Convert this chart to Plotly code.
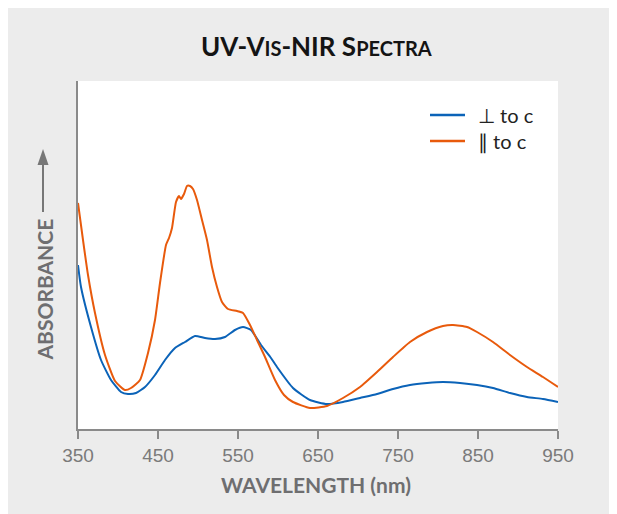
import plotly.graph_objects as go

# ---- data (arbitrary absorbance units) ----
perp_nm = [350, 353.75, 366.25, 378.75, 391.25, 403.75, 412.5, 422.5, 433.75, 446.25,
           458.75, 471.25, 483.75, 496.25, 508.75, 521.25, 533.75, 546.25, 556.25, 566.25,
           578.75, 591.25, 598.75, 618.75, 640, 661.25, 681.25, 702.5, 723.75, 743.75,
           765, 786.25, 806.25, 827.5, 848.75, 868.75, 890, 911.25, 931.25, 950]
perp_abs = [0.820, 0.710, 0.510, 0.345, 0.245, 0.185, 0.175, 0.180, 0.210, 0.270,
            0.345, 0.405, 0.435, 0.465, 0.455, 0.450, 0.460, 0.495, 0.510, 0.495,
            0.420, 0.355, 0.310, 0.205, 0.145, 0.125, 0.135, 0.155, 0.175, 0.200,
            0.220, 0.230, 0.235, 0.230, 0.220, 0.205, 0.180, 0.160, 0.150, 0.135]

para_nm = [350, 356.25, 362.5, 371.25, 383.75, 396.25, 408.75, 416.25, 427.5, 437.5,
           446.25, 452.5, 460, 463.75, 467.5, 472.5, 476.25, 478.75, 482.5, 486.25,
           490, 493.75, 498.75, 505, 511.25, 517.5, 523.75, 530, 537.5, 548.75,
           556.25, 565, 573.75, 583.75, 596.25, 607.5, 618.75, 640, 661.25, 681.25,
           702.5, 723.75, 743.75, 765, 786.25, 806.25, 818.75, 836.25, 848.75, 868.75,
           890, 911.25, 931.25, 950]
para_abs = [1.130, 0.945, 0.770, 0.580, 0.370, 0.240, 0.195, 0.205, 0.245, 0.380,
            0.545, 0.730, 0.920, 0.955, 1.005, 1.135, 1.165, 1.150, 1.175, 1.215,
            1.215, 1.200, 1.145, 1.045, 0.945, 0.810, 0.710, 0.635, 0.600, 0.590,
            0.580, 0.520, 0.445, 0.360, 0.245, 0.170, 0.135, 0.105, 0.115, 0.155,
            0.210, 0.285, 0.360, 0.435, 0.485, 0.515, 0.520, 0.510, 0.485, 0.435,
            0.370, 0.310, 0.260, 0.210]

x_ticks = [350, 450, 550, 650, 750, 850, 950]
series_names = ["⊥ to c", "∥ to c"]
series_colors = ["#0b63b8", "#e85a0c"]

W, H = 617, 514
OFF = 8                         # page body margin
L, R, T, B = 70, 550, 73, 421   # plot area in figure pixels


def px(sx):
    return (sx - OFF - L) / (R - L)


def py(sy):
    return (B - (sy - OFF)) / (B - T)


fig = go.Figure()
for nm, ab, name, col in [(perp_nm, perp_abs, series_names[0], series_colors[0]),
                          (para_nm, para_abs, series_names[1], series_colors[1])]:
    fig.add_trace(go.Scatter(x=nm, y=ab, mode="lines", name=name, showlegend=False,
                             line=dict(color=col, width=2, shape="spline", smoothing=0.5)))

axis_grey = "#8a8a8a"
text_grey = "#6e6e70"
title_font = "Lato, Open Sans, sans-serif"

shapes = [
    dict(type="rect", xref="paper", yref="paper", x0=0, x1=1, y0=0, y1=1,
         fillcolor="white", line=dict(width=0), layer="below"),
    # arrow next to the y-axis title
    dict(type="line", xref="paper", yref="paper", x0=px(43), x1=px(43), y0=py(212), y1=py(163),
         line=dict(color="#777777", width=2)),
    dict(type="path", xref="paper", yref="paper",
         path=f"M {px(37.5)},{py(165)} L {px(48.5)},{py(165)} L {px(43)},{py(149)} Z",
         fillcolor="#777777", line=dict(width=0)),
]
annotations = [
    dict(xref="paper", yref="paper", x=px(316), y=py(46), xanchor="center", yanchor="middle",
         showarrow=False,
         text="<b>UV-V<span style='font-size:20px'>IS</span>-NIR S<span style='font-size:20px'>PECTRA</span></b>",
         font=dict(family=title_font, size=26, color="#141414")),
    dict(xref="paper", yref="paper", x=px(316), y=py(484), xanchor="center", yanchor="middle",
         showarrow=False, text="<b>WAVELENGTH (nm)</b>",
         font=dict(family=title_font, size=21, color=text_grey)),
    dict(xref="paper", yref="paper", x=px(43.5), y=py(290), xanchor="center", yanchor="middle",
         showarrow=False, text="<b>ABSORBANCE</b>", textangle=-90,
         font=dict(family=title_font, size=21, color=text_grey)),
]
# legend drawn as line samples + labels
for i, (name, col) in enumerate(zip(series_names, series_colors)):
    ly = 115 + 26 * i
    shapes.append(dict(type="line", xref="paper", yref="paper", x0=px(430), x1=px(465),
                       y0=py(ly), y1=py(ly), line=dict(color=col, width=2.5)))
    annotations.append(dict(xref="paper", yref="paper", x=px(476), y=py(ly), xanchor="left",
                            yanchor="middle", showarrow=False, text=name,
                            font=dict(family=title_font, size=20, color="#222222")))

fig.update_layout(
    width=W, height=H,
    margin=dict(l=L, r=W - R, t=T, b=H - B, pad=0),
    paper_bgcolor="#ececec",
    plot_bgcolor="white",
    showlegend=False,
    xaxis=dict(range=[350, 950], tickvals=x_ticks, ticktext=[str(v) for v in x_ticks],
               showline=True, linecolor=axis_grey, linewidth=1.5,
               ticks="outside", ticklen=8, tickwidth=1.5, tickcolor=axis_grey,
               tickfont=dict(family="Liberation Sans, Arial, sans-serif", size=19, color="#7a7a7a"),
               showgrid=False, zeroline=False, fixedrange=True),
    yaxis=dict(range=[0, 1.74], showline=True, linecolor=axis_grey, linewidth=1.5,
               showticklabels=False, ticks="", showgrid=False, zeroline=False, fixedrange=True),
    shapes=shapes,
    annotations=annotations,
)

fig.write_html("out.html",
               post_script="document.documentElement.style.overflow='hidden';"
                           "document.body.style.overflow='hidden';")
